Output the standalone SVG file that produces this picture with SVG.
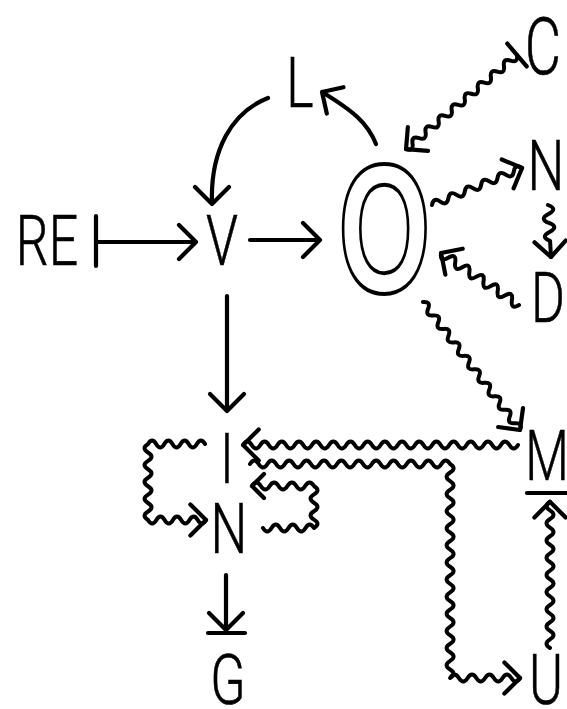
<svg xmlns="http://www.w3.org/2000/svg" width="567" height="709" viewBox="0 0 567 709">
<style>
.t{font-family:Roboto,"Liberation Sans",sans-serif;font-weight:300;font-size:70px;text-anchor:middle;fill:#000;stroke:#000;stroke-width:0.6}
.o{font-family:"Liberation Sans",Arial,sans-serif;font-weight:bold;font-size:184px;text-anchor:middle;fill:none;stroke:#000;stroke-width:3.4}
.c{fill:none;stroke:#000;stroke-width:4.2;stroke-linecap:round;stroke-linejoin:round}
.w{fill:none;stroke:#000;stroke-width:4;stroke-linecap:round;stroke-linejoin:round}
</style>
<rect width="567" height="709" fill="#fff"/>
<g id="connectors">
  <path class="c" d="M96,216 L96,266 M96,242 L196,242 M179,225 L196,242 L179,259"/>
  <path class="c" d="M250,240 L320,240 M303,223 L320,240 L303,257"/>
  <path class="c" d="M227,296 L227,411 M210,394 L227,411 L244,394"/>
  <path class="c" d="M226,575 L226,630 M209,613 L226,630 L243,613 M208,633 L245,633"/>
  <path class="c" d="M268,98 C232,112 210,150 212,204 M195,187 L212,204 L229,187"/>
  <path class="c" d="M376,144 C368,124 355,112 322,92 M343.5,87.2 L322,92 L326.8,113.5"/>
  <g transform="translate(517,55) rotate(139.7)">
    <path class="w" d="M0,0 q4.28,-7 8.56,0 t8.56,0 t8.56,0 t8.56,0 t8.56,0 t8.56,0 t8.56,0 t8.56,0 t8.56,0 t8.56,0 t8.56,0 t8.56,0 t8.56,0 t8.56,0 t8.56,0 t8.56,0 t8.56,0"/>
    <path class="c" d="M0,-15 L0,15 M129.9,-15.6 L145.5,0 L129.9,15.6"/>
  </g>
  <g transform="translate(432,205) rotate(-22.35)">
    <path class="w" d="M0,0 q4.42,-7 8.85,0 t8.85,0 t8.85,0 t8.85,0 t8.85,0 t8.85,0 t8.85,0 t8.85,0 t8.85,0 t8.85,0 t8.85,0"/>
    <path class="c" d="M81.8,-15.6 L97.35,0 L81.8,15.6"/>
  </g>
  <g transform="translate(548,205) rotate(86.7)">
    <path class="w" d="M0,0 q4.5,-10 9,0 t9,0 t9,0 t9,0 L52.1,0"/>
    <path class="c" d="M36.5,-15.6 L52.1,0 L36.5,15.6"/>
  </g>
  <g transform="translate(519,305) rotate(-146.3)">
    <path class="w" d="M0,0 q4.26,-9 8.52,0 t8.52,0 t8.52,0 t8.52,0 t8.52,0 t8.52,0 t8.52,0 t8.52,0 t8.52,0 t8.52,0 t8.52,0"/>
    <path class="c" d="M78.1,-15.6 L93.7,0 L78.1,15.6"/>
  </g>
  <g transform="translate(423,302) rotate(52.85)">
    <path class="w" d="M0,0 q4.23,-7 8.45,0 t8.45,0 t8.45,0 t8.45,0 t8.45,0 t8.45,0 t8.45,0 t8.45,0 t8.45,0 t8.45,0 t8.45,0 t8.45,0 t8.45,0 t8.45,0 t8.45,0 t8.45,0 t8.45,0 t8.45,0 t8.45,0"/>
    <path class="c" d="M145,-15.6 L160.6,0 L145,15.6"/>
  </g>
  <g transform="translate(518,445) rotate(180)">
    <path class="w" d="M0,0 q4.3,-7 8.59,0 t8.59,0 t8.59,0 t8.59,0 t8.59,0 t8.59,0 t8.59,0 t8.59,0 t8.59,0 t8.59,0 t8.59,0 t8.59,0 t8.59,0 t8.59,0 t8.59,0 t8.59,0 t8.59,0 t8.59,0 t8.59,0 t8.59,0 t8.59,0 t8.59,0 t8.59,0 t8.59,0 t8.59,0 t8.59,0 t8.59,0 t8.59,0 t8.59,0 t8.59,0 t8.59,0 t8.59,0"/>
    <path class="c" d="M259.3,-15.6 L274.9,0 L259.3,15.6"/>
  </g>
  <path class="w" d="M250,464 q4.35,-7 8.7,0 t8.7,0 t8.7,0 t8.7,0 t8.7,0 t8.7,0 t8.7,0 t8.7,0 t8.7,0 t8.7,0 t8.7,0 t8.7,0 t8.7,0 t8.7,0 t8.7,0 t8.7,0 t8.7,0 t8.7,0 t8.7,0 t8.7,0 t8.7,0 t8.7,0 t8.7,0 q7,4.28 0,8.56 t0,8.56 t0,8.56 t0,8.56 t0,8.56 t0,8.56 t0,8.56 t0,8.56 t0,8.56 t0,8.56 t0,8.56 t0,8.56 t0,8.56 t0,8.56 t0,8.56 t0,8.56 t0,8.56 t0,8.56 t0,8.56 t0,8.56 t0,8.56 t0,8.56 t0,8.56 t0,8.56 t0,8.56 q4.375,-7 8.75,0 t8.75,0 t8.75,0 t8.75,0 t8.75,0 t8.75,0 t8.75,0 t8.75,0"/>
  <path class="c" d="M504.4,662.4 L520,678 L504.4,693.6"/>
  <path class="w" d="M550,648 q-7,-4.3 0,-8.6 t0,-8.6 t0,-8.6 t0,-8.6 t0,-8.6 t0,-8.6 t0,-8.6 t0,-8.6 t0,-8.6 t0,-8.6 t0,-8.6 t0,-8.6 t0,-8.6 t0,-8.6 t0,-8.6 t0,-8.6 t0,-8.6"/>
  <path class="c" d="M534.4,517.4 L550,501.8 L565.6,517.4 M527,493 L570,493"/>
  <path class="w" d="M205,444 q-4.07,-7 -8.14,0 t-8.14,0 t-8.14,0 t-8.14,0 t-8.14,0 t-8.14,0 t-8.14,0 q-7,4.22 0,8.44 t0,8.44 t0,8.44 t0,8.44 t0,8.44 t0,8.44 t0,8.44 t0,8.44 t0,8.44 q4.14,7 8.29,0 t8.29,0 t8.29,0 t8.29,0 t8.29,0 t8.29,0 t8.29,0"/>
  <path class="c" d="M190.4,504.4 L206,520 L190.4,535.6"/>
  <path class="w" d="M263,528 q4.25,7 8.5,0 t8.5,0 t8.5,0 t8.5,0 t8.5,0 t8.5,0 q7,-4.2 0,-8.4 t0,-8.4 t0,-8.4 t0,-8.4 t0,-8.4 q-4.43,-7 -8.86,0 t-8.86,0 t-8.86,0 t-8.86,0 t-8.86,0 t-8.86,0 t-8.86,0"/>
  <path class="c" d="M264,474 L252,486 L264,498"/>
</g>
<g id="node-RE"><text class="t" transform="translate(47,265) scale(0.74,1)">RE</text></g>
<g id="node-V"><text class="t" transform="translate(222,265) scale(0.74,1)">V</text></g>
<g id="node-O"><text class="o" transform="translate(384.5,292) scale(0.645,1)" vector-effect="non-scaling-stroke">O</text></g>
<g id="node-L"><text class="t" transform="translate(300,107) scale(0.74,1)">L</text></g>
<g id="node-C"><text class="t" style="font-size:80px" transform="translate(543,74) scale(0.7,1)">C</text></g>
<g id="node-N1"><text class="t" transform="translate(546,190) scale(0.74,1)">N</text></g>
<g id="node-D"><text class="t" transform="translate(548,322) scale(0.74,1)">D</text></g>
<g id="node-M"><text class="t" transform="translate(547,480) scale(0.72,1)">M</text></g>
<g id="node-I"><text class="t" transform="translate(227,483) scale(0.74,1)">I</text></g>
<g id="node-N2"><text class="t" transform="translate(229,553) scale(0.74,1)">N</text></g>
<g id="node-G"><text class="t" transform="translate(228,704) scale(0.74,1)">G</text></g>
<g id="node-U"><text class="t" transform="translate(546,704) scale(0.74,1)">U</text></g>
</svg>
